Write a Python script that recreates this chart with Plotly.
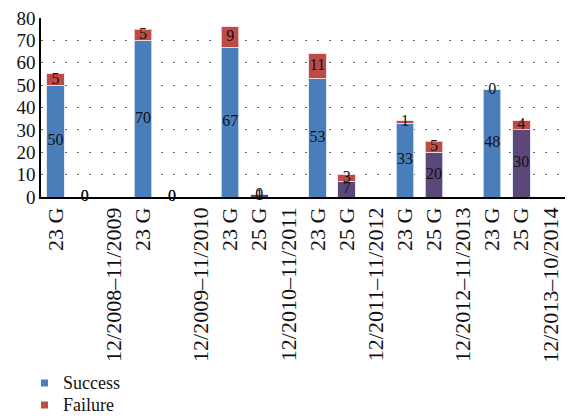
import plotly.graph_objects as go

# Category slots (left to right); "" = unlabeled slot
categories = ["23 G", "", "12/2008–11/2009",
              "23 G", "", "12/2009–11/2010",
              "23 G", "25 G", "12/2010–11/2011",
              "23 G", "25 G", "12/2011–11/2012",
              "23 G", "25 G", "12/2012–11/2013",
              "23 G", "25 G", "12/2013–10/2014"]
success = [50, 0, None, 70, 0, None, 67, 1, None, 53, 7, None, 33, 20, None, 48, 30, None]
failure = [5, 0, None, 5, 0, None, 9, 0, None, 11, 3, None, 1, 5, None, 0, 4, None]
legend_names = ["Success", "Failure"]

BLUE = "#4A7EBB"
PURPLE = "#5C4878"
RED = "#BE4B48"
FONT = "Liberation Serif, DejaVu Serif, serif"

W, H = 568, 416
ML, MR, MT, MB = 41, 3, 18, 219
PW, PH = W - ML - MR, H - MT - MB

xs = list(range(len(categories)))
succ_colors = [PURPLE if c == "25 G" else BLUE for c in categories]

fig = go.Figure()
fig.add_trace(go.Bar(x=xs, y=success, marker=dict(color=succ_colors, line=dict(width=1, color="rgba(220,230,245,0.8)")),
                     width=0.6, showlegend=False, hoverinfo="skip"))
fig.add_trace(go.Bar(x=xs, y=failure, marker=dict(color=RED, line=dict(width=1, color="rgba(245,220,220,0.8)")),
                     width=0.6, showlegend=False, hoverinfo="skip"))

# data labels
lx, ly, lt = [], [], []
for i, (s, f) in enumerate(zip(success, failure)):
    if s is None:
        continue
    lx.append(i); ly.append(s / 2); lt.append(str(s))
    lx.append(i); ly.append(s + f / 2); lt.append(str(f))
fig.add_trace(go.Scatter(x=lx, y=ly, text=lt, mode="text", textposition="middle center",
                         textfont=dict(family=FONT, size=16, color="#111"),
                         showlegend=False, hoverinfo="skip", cliponaxis=False))

# manual legend below the chart
def px_to_paper(px, py):
    return (px - ML) / PW, (H - MB - py) / PH

for name, col, cy in zip(legend_names, [BLUE, RED], [383, 405]):
    x0, y0 = px_to_paper(41, cy + 3.5)
    x1, y1 = px_to_paper(48, cy - 3.5)
    fig.add_shape(type="rect", xref="paper", yref="paper", x0=x0, x1=x1, y0=y0, y1=y1,
                  fillcolor=col, line=dict(width=0))
    tx, ty = px_to_paper(61, cy)
    fig.add_annotation(xref="paper", yref="paper", x=tx, y=ty, text=name, showarrow=False,
                       xanchor="left", yanchor="middle", font=dict(family=FONT, size=18, color="#111"))

fig.update_layout(
    barmode="stack",
    width=W, height=H,
    margin=dict(l=ML, r=MR, t=MT, b=MB),
    plot_bgcolor="white", paper_bgcolor="white",
    font=dict(family=FONT, color="#111"),
    showlegend=False,
    xaxis=dict(range=[-0.5, len(categories) - 0.5], tickmode="array", tickvals=xs, ticktext=categories,
               tickangle=-90, tickfont=dict(family=FONT, size=22, color="#111"),
               showline=True, linecolor="black", linewidth=1.5, showgrid=False, ticks="", zeroline=False),
    yaxis=dict(range=[0, 80], dtick=10, tickfont=dict(family=FONT, size=19, color="#111"),
               showline=True, linecolor="black", linewidth=1.5, ticks="",
               showgrid=True, gridcolor="#666", griddash="2px,10px", gridwidth=1, zeroline=False),
)

fig.write_html("out.html")
